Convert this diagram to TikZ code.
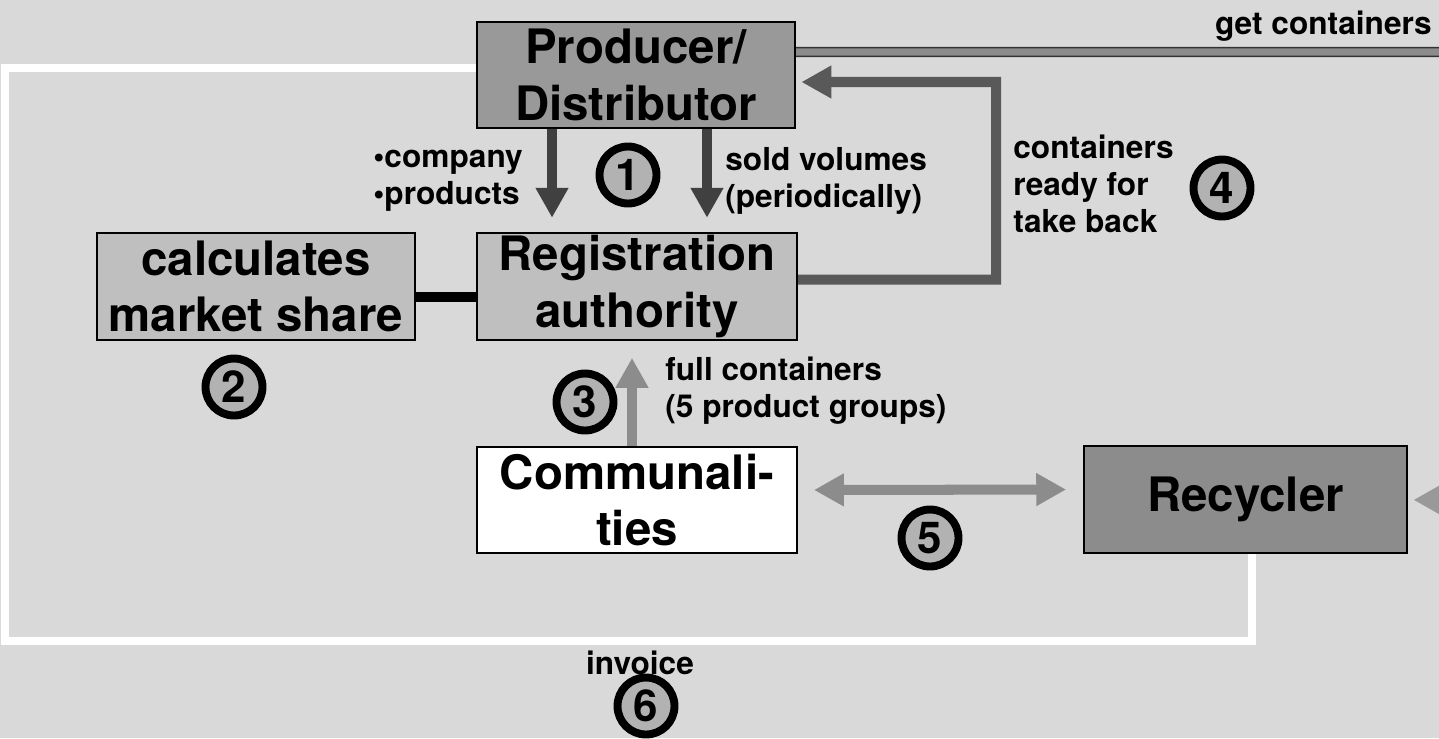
\documentclass[tikz,border=0pt]{standalone}
\usepackage{fontspec}
\setmainfont{TeX Gyre Heros}
\usetikzlibrary{arrows.meta}

\tikzset{
  block/.style={draw=black, line width=1.4pt, minimum width=6.4cm, minimum height=2.14cm, align=center, inner sep=0pt, font=\fontsize{27}{32}\selectfont\bfseries},
  stepnum/.style={circle, draw=black, line width=4.5pt, fill=black!30, minimum size=1.14cm, inner sep=0pt, font=\fontsize{25}{25}\selectfont\bfseries},
  lbl/.style={align=left, inner sep=0pt, font=\fontsize{18}{21}\selectfont\bfseries},
  fatarrow/.style={line width=5.7pt, line join=miter, -{Triangle[length=17pt, width=17.6pt]}},
}

\begin{document}
\begin{tikzpicture}[x=0.02cm, y=-0.02cm]
        \useasboundingbox (0,0) rectangle (1439,738);
        \fill[black!15] (0,0) rectangle (1439,738);
        \draw[white, line width=4.5pt] (477,68) -- (5,68) -- (5,641) -- (1252,641) -- (1252,553);

        % Blocks
        \node[block, fill=black!40, minimum width=6.36cm, minimum height=2.12cm] (prod) at (636,75) {Producer/\\Distributor};
        \node[block, fill=black!25] (reg) at (637,286.5) {Registration\\authority};
        \node[block, fill=black!25, minimum width=6.36cm] (calc) at (256,286.5) {calculates\\market share};
        \node[block, fill=white, minimum height=2.12cm] (comm) at (637,500) {Communali-\\ties};
        \node[block, fill=black!45, minimum width=6.46cm] (recy) at (1245.5,499.5) {Recycler};

        % Steps
        \node[stepnum] (n1) at (628,175) {1};
        \node[stepnum] (n2) at (234,387) {2};
        \node[stepnum] (n3) at (585,402) {3};
        \node[stepnum] (n4) at (1222,188) {4};
        \node[stepnum] (n5) at (930,538) {5};
        \node[stepnum] (n6) at (646,706) {6};

        % Labels
        \node[lbl, anchor=west] (lcomp) at (373,181) {\textbullet company\\\textbullet products};
        \node[lbl, anchor=west] (lsold) at (725,181) {sold volumes\\(periodically)};
        \node[lbl, anchor=west] (lready) at (1013,184) {containers\\ready for\\take back};
        \node[lbl, anchor=west] (lfull) at (665,391) {full containers\\(5 product groups)};
        \node[lbl, anchor=east] (lget) at (1432,26) {get containers};
        \node[lbl] (linv) at (640,663) {invoice};

        \coordinate (c4) at (996,82);
        \coordinate (gc) at (1470,52);
        \coordinate (rc) at (1480,500);

        % Arrows
        \draw[line width=6.2pt] ([yshift=-0.21cm]calc.east) -- ([yshift=-0.21cm]reg.west);
        \draw[fatarrow, black!75, shorten >=8pt] ([xshift=-1.68cm]prod.south) -- ([xshift=-1.7cm]reg.north);
        \draw[fatarrow, black!75, shorten >=8pt] ([xshift=1.42cm]prod.south) -- ([xshift=1.4cm]reg.north);
        \draw[fatarrow, black!45, shorten >=9.5pt] ([xshift=-0.1cm]comm.north) -- ([xshift=-0.1cm]reg.south);
        \draw[fatarrow, black!65, shorten >=3pt] ([yshift=0.14cm]reg.east) -| (c4) -- ([yshift=-0.14cm]prod.east);
        \draw[black!80, line width=0.8pt, double=black!45, double distance=4.2pt] ([yshift=0.46cm]prod.east) -- (gc);
        \draw[fatarrow, black!45, {Triangle[length=17pt, width=17.6pt]}-{Triangle[length=17pt, width=17.6pt]}, shorten <=9pt, shorten >=9.5pt] ([yshift=0.2cm]comm.east) -- ([yshift=0.2cm]recy.west);
        \draw[fatarrow, black!40, shorten >=3pt] (rc) -- (recy);
    \end{tikzpicture}
\end{document}
